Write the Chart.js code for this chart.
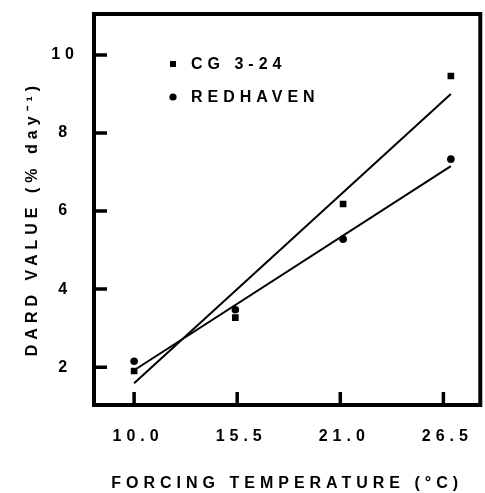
<!DOCTYPE html>
<html lang="en">
<head>
<meta charset="UTF-8">
<title>DARD value vs forcing temperature</title>
<script src="https://cdn.jsdelivr.net/npm/chart.js"></script>
<style>
  html, body { margin: 0; padding: 0; background: #fff; }
  #wrap { width: 485px; height: 493px; }
</style>
</head>
<body>
<div id="wrap"><canvas id="dardChart"></canvas></div>
<script>
// values
const temps    = [10.0, 15.4, 21.15, 26.9];
const cg324    = [1.9, 3.27, 6.18, 9.46];
const redhaven = [2.15, 3.47, 5.28, 7.33];
// fitted lines (end points)
const fitX     = [10.0, 26.9];
const cgFitY   = [1.59, 9.0];
const rhFitY   = [1.92, 7.15];
const xTicks   = [10.0, 15.5, 21.0, 26.5];
const yTicks   = [2, 4, 6, 8, 10];
const yTitle   = 'DARD VALUE (% day\u207B\u00B9)';

const FONT = "'Liberation Sans', Arial, sans-serif";
const SPACING = 5;

const toPts = (xs, ys) => xs.map((x, i) => ({ x: x, y: ys[i] }));

const framePlugin = {
  id: 'frame',
  beforeUpdate(chart) { chart.ctx.letterSpacing = SPACING + 'px'; },
  beforeDraw(chart) { chart.ctx.letterSpacing = SPACING + 'px'; },
  afterDraw(chart) {
    const { ctx, chartArea: a, scales } = chart;
    ctx.save();
    ctx.strokeStyle = '#000';
    ctx.lineWidth = 4;
    ctx.strokeRect(a.left, a.top, a.right - a.left, a.bottom - a.top);
    // inward ticks
    ctx.lineWidth = 3.5;
    ctx.beginPath();
    scales.y.ticks.forEach(t => {
      const py = scales.y.getPixelForValue(t.value);
      ctx.moveTo(a.left, py); ctx.lineTo(a.left + 13, py);
    });
    scales.x.ticks.forEach(t => {
      const px = scales.x.getPixelForValue(t.value);
      ctx.moveTo(px, a.bottom); ctx.lineTo(px, a.bottom - 13);
    });
    ctx.stroke();

    ctx.fillStyle = '#000';
    ctx.font = 'bold 16px ' + FONT;
    ctx.textBaseline = 'middle';

    // y axis title, sits a little below the plot centre in the original
    ctx.save();
    ctx.translate(33, 221);
    ctx.rotate(-Math.PI / 2);
    ctx.textAlign = 'center';
    ctx.fillText(yTitle, SPACING / 2, 0);
    ctx.restore();

    // legend inside the plot
    ctx.textAlign = 'left';
    const legendSets = chart.data.datasets.filter(d => d.inLegend);
    legendSets.forEach((d, i) => {
      const ly = 64 + i * 33;
      const lx = 173;
      if (d.pointStyle === 'rect') {
        ctx.fillRect(lx - 3, ly - 3, 6, 6);
      } else {
        ctx.beginPath(); ctx.arc(lx, ly, 3.6, 0, Math.PI * 2); ctx.fill();
      }
      ctx.fillText(d.label, lx + 18, ly + 1);
    });
    ctx.restore();
  }
};

new Chart(document.getElementById('dardChart'), {
  type: 'scatter',
  data: {
    datasets: [
      { label: 'CG 3-24', data: toPts(temps, cg324), inLegend: true,
        pointStyle: 'rect', pointRadius: 4.7, backgroundColor: '#000', borderColor: '#000', borderWidth: 0 },
      { label: 'REDHAVEN', data: toPts(temps, redhaven), inLegend: true,
        pointStyle: 'circle', pointRadius: 3.8, backgroundColor: '#000', borderColor: '#000', borderWidth: 0 },
      { label: 'CG 3-24 fit', data: toPts(fitX, cgFitY), showLine: true,
        pointRadius: 0, borderColor: '#000', borderWidth: 2 },
      { label: 'REDHAVEN fit', data: toPts(fitX, rhFitY), showLine: true,
        pointRadius: 0, borderColor: '#000', borderWidth: 2 }
    ]
  },
  options: {
    responsive: true,
    maintainAspectRatio: false,
    animation: false,
    layout: { padding: { left: 0, right: 3, top: 14, bottom: 0 } },
    plugins: { legend: { display: false }, tooltip: { enabled: false } },
    scales: {
      x: {
        type: 'linear', min: 7.86, max: 28.47,
        afterFit: s => { s.height = 88; s.paddingLeft = 0; s.paddingRight = 0; },
        afterBuildTicks: s => { s.ticks = xTicks.map(v => ({ value: v })); },
        grid: { display: false, drawTicks: false },
        border: { display: false },
        ticks: { color: '#000', padding: 22, labelOffset: 4, autoSkip: false,
                 font: { family: FONT, size: 16, weight: 'bold' },
                 maxRotation: 0, callback: v => v.toFixed(1) },
        title: { display: true, text: 'FORCING TEMPERATURE (°C)', color: '#000',
                 font: { family: FONT, size: 16, weight: 'bold' }, padding: { bottom: 0 } }
      },
      y: {
        type: 'linear', min: 1.03, max: 11.05,
        afterFit: s => { s.width = 94; s.paddingTop = 0; s.paddingBottom = 0; },
        afterBuildTicks: s => { s.ticks = yTicks.map(v => ({ value: v })); },
        grid: { display: false, drawTicks: false },
        border: { display: false },
        ticks: { color: '#000', padding: 15, crossAlign: 'center', autoSkip: false,
                 font: { family: FONT, size: 16, weight: 'bold' } },
        title: { display: false }
      }
    }
  },
  plugins: [framePlugin]
});
</script>
</body>
</html>
